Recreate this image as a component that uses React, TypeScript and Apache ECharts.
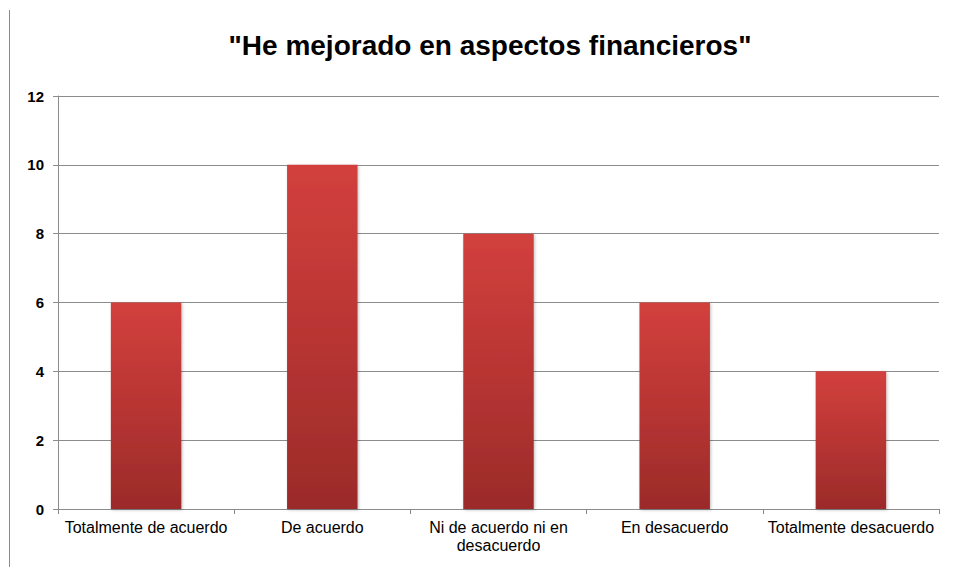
import React, { useEffect, useRef } from "react";
import * as echarts from "echarts";

const titleText = '"He mejorado en aspectos financieros"';
const categories = [
  "Totalmente de acuerdo",
  "De acuerdo",
  "Ni de acuerdo ni en desacuerdo",
  "En desacuerdo",
  "Totalmente desacuerdo",
];
const values = [6, 10, 8, 6, 4];

export default function App() {
  const ref = useRef<HTMLDivElement>(null);
  useEffect(() => {
    if (!ref.current) return;
    const chart = echarts.init(ref.current, null, { renderer: "svg" });
    chart.setOption({
      animation: false,
      backgroundColor: "#ffffff",
      textStyle: { fontFamily: "Liberation Sans, Arial, sans-serif" },
      title: {
        text: titleText,
        left: 485,
        top: 26,
        textAlign: "center",
        textStyle: {
          fontSize: 28,
          fontWeight: "bold",
          color: "#000000",
          fontFamily: "Liberation Sans, Arial, sans-serif",
        },
      },
      graphic: [
        {
          type: "line",
          shape: { x1: 9.5, y1: 10, x2: 9.5, y2: 567 },
          style: { stroke: "#8a8a8a", lineWidth: 1 },
        },
      ],
      grid: { left: 58, right: 18, top: 96, bottom: 58 },
      xAxis: {
        type: "category",
        data: categories,
        axisLine: { show: true, lineStyle: { color: "#8c8c8c", width: 1 } },
        axisTick: { show: true, length: 5, lineStyle: { color: "#8c8c8c" } },
        axisLabel: {
          color: "#000000",
          fontSize: 16,
          margin: 9,
          lineHeight: 18.5,
          interval: 0,
          formatter: (v: string) =>
            v === "Ni de acuerdo ni en desacuerdo" ? "Ni de acuerdo ni en\ndesacuerdo" : v,
        },
      },
      yAxis: {
        type: "value",
        min: 0,
        max: 12,
        interval: 2,
        axisLine: { show: true, lineStyle: { color: "#8c8c8c", width: 1 } },
        axisTick: { show: true, length: 5, lineStyle: { color: "#8c8c8c" } },
        axisLabel: { color: "#000000", fontSize: 15, fontWeight: "bold", margin: 14 },
        splitLine: { show: true, lineStyle: { color: "#8c8c8c", width: 1 } },
      },
      series: [
        {
          type: "bar",
          data: values,
          barCategoryGap: "60%",
          itemStyle: {
            color: new echarts.graphic.LinearGradient(0, 0, 0, 1, [
              { offset: 0, color: "#d2403d" },
              { offset: 0.5, color: "#b83533" },
              { offset: 1, color: "#9b2b29" },
            ]),
            shadowColor: "rgba(0,0,0,0.25)",
            shadowBlur: 3,
            shadowOffsetX: 1,
            shadowOffsetY: 1,
          },
        },
      ],
    });
    return () => chart.dispose();
  }, []);
  return (
    <div
      ref={ref}
      style={{ position: "fixed", left: 0, top: 0, width: 957, height: 567 }}
    />
  );
}
